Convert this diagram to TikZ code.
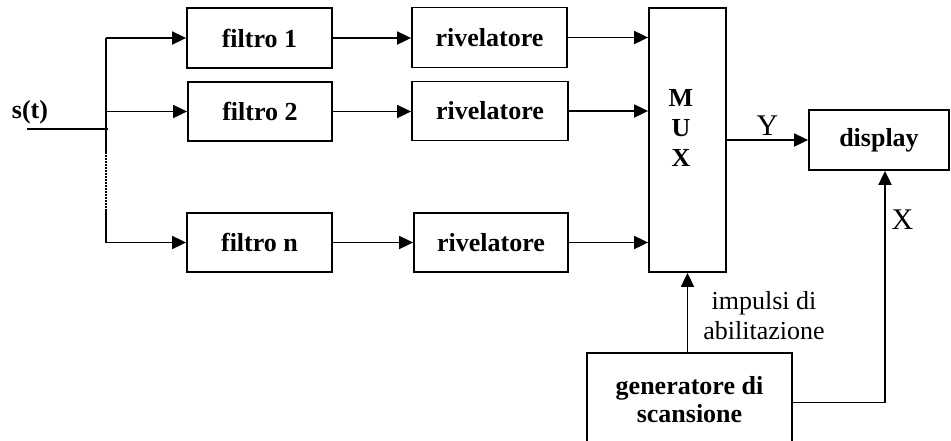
\documentclass[tikz,border=0pt]{standalone}
\usepackage{fontspec}
\setmainfont{Liberation Serif}
\usetikzlibrary{arrows.meta}
\begin{document}
\begin{tikzpicture}[x=1pt,y=-1pt,
  every node/.style={inner sep=0pt},
  blk/.style={draw,line width=1.8pt,font=\fontsize{26}{28}\selectfont\bfseries,align=center},
  wire/.style={line width=1.8pt},
  arr/.style={wire,-{Triangle[length=14pt,width=13pt]}},
  lbl/.style={font=\fontsize{26}{30}\selectfont,align=center}]
\useasboundingbox (0,0) rectangle (951,440);
% blocks
\node[blk,minimum width=145pt,minimum height=60pt] (f1) at (259.5,38) {filtro 1};
\node[blk,minimum width=144pt,minimum height=59pt] (f2) at (260,111.5) {filtro 2};
\node[blk,minimum width=145pt,minimum height=59pt] (fn) at (259.5,242.5) {filtro n};
\node[blk,minimum width=155pt,minimum height=60pt] (r1) at (489.5,37.5) {rivelatore};
\node[blk,minimum width=156pt,minimum height=59pt] (r2) at (490,111) {rivelatore};
\node[blk,minimum width=154pt,minimum height=59pt] (rn) at (491,242.5) {rivelatore};
\node[blk,minimum width=77pt,minimum height=264pt] (mux) at (687.5,140) {};
\node[font=\fontsize{26}{30}\selectfont\bfseries,align=center] (muxl) at (681,128) {M\\U\\X};
\node[blk,minimum width=140pt,minimum height=60pt] (disp) at (879,140) {display};
\node[blk,minimum width=205pt,minimum height=94pt] (gen) at (689.5,400) {generatore di\\scansione};
% input and bus
\node[font=\fontsize{26}{28}\selectfont\bfseries] (st) at (30,112) {s(t)};
\coordinate (in) at (27,129);
\coordinate (bj) at (108,129);
\coordinate (b1) at (106,38);
\coordinate (b2) at (106,111.5);
\coordinate (bd1) at (106,152);
\coordinate (bd2) at (106,209);
\coordinate (bn) at (106,242.5);
\draw[wire] (in) -- (bj);
\draw[wire] (b1) -- (bd1);
\draw[wire,line width=1.2pt,dash pattern=on 1.5pt off 1.5pt] (bd1) -- (bd2);
\draw[wire] (bd2) -- (bn);
\draw[arr] (b1) -- (f1.west);
\draw[arr] (b2) -- (f2.west);
\draw[arr] (bn) -- (fn.west);
% filters to detectors
\draw[arr] (f1.east) -- (f1.east -| r1.west);
\draw[arr] (f2.east) -- (f2.east -| r2.west);
\draw[arr] (fn.east) -- (fn.east -| rn.west);
% detectors to mux
\draw[arr] (r1.east) -- (r1.east -| mux.west);
\draw[arr] (r2.east) -- (r2.east -| mux.west);
\draw[arr] (rn.east) -- (rn.east -| mux.west);
% mux to display
\draw[arr] (disp.west -| mux.east) -- (disp.west) node[lbl,font=\fontsize{30}{30}\selectfont,midway,above=4pt] (ylab) {Y};
% generator to mux
\draw[arr] (gen.north -| mux.south) -- (mux.south);
\node[lbl] (imp) at (764,316) {impulsi di\\abilitazione};
% generator to display
\coordinate (xc) at (885,402.5);
\draw[arr] (gen.east |- xc) -- (xc) -- (xc |- disp.south);
\node[lbl,font=\fontsize{30}{30}\selectfont] (xlab) at (902.5,220) {X};
\end{tikzpicture}
\end{document}
